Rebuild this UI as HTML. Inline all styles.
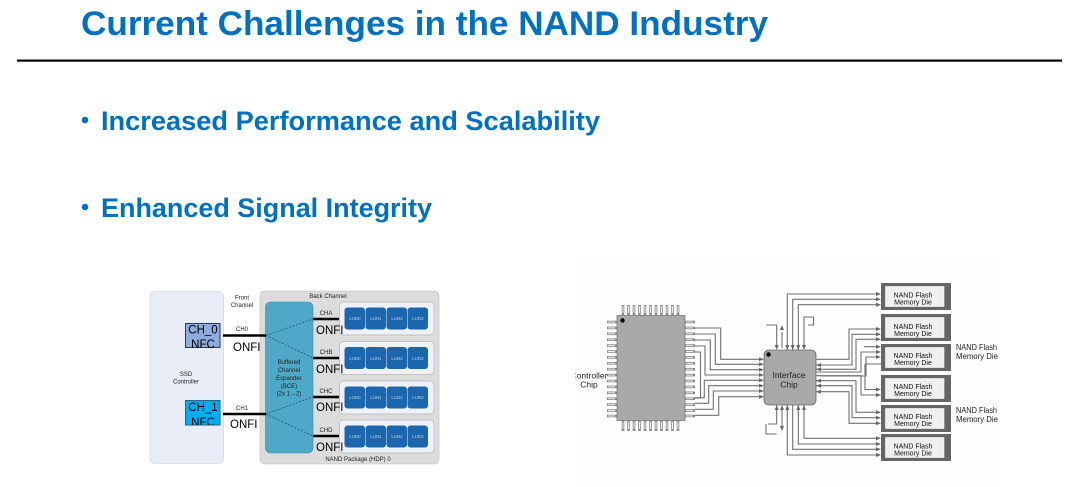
<!DOCTYPE html>
<html><head><meta charset="utf-8"><style>
html,body{margin:0;padding:0;background:#fff;width:1080px;height:487px;overflow:hidden}
svg{display:block}
text{font-family:"Liberation Sans",sans-serif}
</style></head><body>
<svg width="1080" height="487" viewBox="0 0 1080 487" xmlns="http://www.w3.org/2000/svg">
<defs>
<filter id="b" x="-5%" y="-5%" width="110%" height="110%"><feGaussianBlur stdDeviation="0.28"/></filter>
<clipPath id="c0"><rect x="185" y="323" width="36" height="25"/></clipPath>
<clipPath id="c1"><rect x="185" y="400" width="36" height="25"/></clipPath>
<g id="hp"><path d="M0 0H10" stroke="#888" stroke-width="2.6"/><path d="M1 0H8" stroke="#eee" stroke-width="1"/></g>
<g id="vp"><path d="M0 0V10" stroke="#888" stroke-width="2.6"/><path d="M0 1V8" stroke="#eee" stroke-width="1"/></g>
<g id="row"><rect x="0" y="0" width="94.5" height="33" rx="4" fill="#eef1f8" stroke="#b5b5b5" stroke-width=".7"/>
<g fill="#1f66ae"><rect x="5" y="5.500" width="20.500" height="22" rx="3"/><rect x="26" y="5.500" width="20.500" height="22" rx="3"/><rect x="47" y="5.500" width="20.500" height="22" rx="3"/><rect x="68" y="5.500" width="20.500" height="22" rx="3"/></g></g>
<g id="die"><rect x="0" y="0" width="70" height="27" fill="#666"/><rect x="4.500" y="3.500" width="58.500" height="20" fill="#f0f0f0" stroke="#fff" stroke-width=".6"/></g>
</defs>

<text x="81" y="35" font-size="34" font-weight="bold" fill="#0070c0" textLength="687" lengthAdjust="spacingAndGlyphs">Current Challenges in the NAND Industry</text>
<rect x="17" y="59.500" width="1045" height="2.200" fill="#000"/>
<circle cx="85" cy="120" r="3.300" fill="#0070c0"/>
<text x="101" y="130" font-size="27" font-weight="bold" fill="#0070c0" textLength="499" lengthAdjust="spacingAndGlyphs">Increased Performance and Scalability</text>
<circle cx="85" cy="207" r="3.300" fill="#0070c0"/>
<text x="101" y="217" font-size="27" font-weight="bold" fill="#0070c0" textLength="331" lengthAdjust="spacingAndGlyphs">Enhanced Signal Integrity</text>

<g filter="url(#b)">
<rect x="150" y="291.500" width="73.500" height="172" rx="5" fill="#e8edf8" stroke="#c8ccd6" stroke-width=".6"/>
<rect x="260" y="291" width="179" height="173" rx="5" fill="#dcdcdc" stroke="#bbb" stroke-width=".6"/>
<use href="#row" x="339.500" y="302"/><use href="#row" x="339.500" y="341.500"/><use href="#row" x="339.500" y="381"/><use href="#row" x="339.500" y="420"/>
<rect x="265.500" y="302" width="47.500" height="151" rx="5" fill="#4fa8c8" stroke="#3f8aa8" stroke-width=".6"/>
<rect x="185.500" y="323.500" width="34.500" height="24" fill="#8faadc" stroke="#2a3a56"/>
<rect x="185.500" y="400.500" width="34.500" height="24.500" fill="#00aeef" stroke="#1a6a90"/>
<path d="M266 335.500L313 319M266 335.500L313 358M266 414L313 397M266 414L313 436" stroke="#1d5d78" stroke-width=".8" stroke-dasharray="2 1.500" fill="none"/>
<path d="M223 335.500H266M223 414H266M313 319H339M313 358H339M313 397H339M313 436H339" stroke="#000" stroke-width="2.400"/>
<g fill="#222" font-size="6" text-anchor="middle">
<text x="242" y="299.500">Front</text><text x="242" y="307">Channel</text>
<text x="328" y="298">Back Channel</text>
<text x="186" y="376">SSD</text><text x="186" y="383.500">Controller</text>
<text x="242" y="331">CH0</text><text x="242" y="410">CH1</text>
<text x="326" y="315">CHA</text><text x="326" y="354">CHB</text><text x="326" y="393">CHC</text><text x="326" y="432">CHD</text>
<text x="358" y="461">NAND Package (HDP) 0</text>
<text x="289" y="364">Buffered</text><text x="289" y="372">Channel</text><text x="289" y="380">Expander</text><text x="289" y="388">(BCE)</text><text x="289" y="395.500">(2x 1→2)</text>
</g>
<g fill="#b8d0ea" font-size="4.400" text-anchor="middle">
<text x="355" y="320">LUN0</text><text x="376" y="320">LUN1</text><text x="397" y="320">LUN2</text><text x="418" y="320">LUN3</text>
<text x="355" y="360">LUN0</text><text x="376" y="360">LUN1</text><text x="397" y="360">LUN2</text><text x="418" y="360">LUN3</text>
<text x="355" y="399">LUN0</text><text x="376" y="399">LUN1</text><text x="397" y="399">LUN2</text><text x="418" y="399">LUN3</text>
<text x="355" y="438">LUN0</text><text x="376" y="438">LUN1</text><text x="397" y="438">LUN2</text><text x="418" y="438">LUN3</text>
</g>
<g clip-path="url(#c0)" fill="#000" font-size="11.500" text-anchor="middle"><text x="203" y="333.500">CH_0</text><text x="203" y="348">NFC</text></g>
<g clip-path="url(#c1)" fill="#000" font-size="11.500" text-anchor="middle"><text x="203" y="411">CH_1</text><text x="203" y="426">NFC</text></g>
<g fill="#000" font-size="11.500">
<text x="233" y="351">ONFI</text><text x="230" y="428">ONFI</text>
<text x="316" y="334">ONFI</text><text x="316" y="373">ONFI</text><text x="316" y="411">ONFI</text><text x="316" y="451">ONFI</text>
</g>
</g>

<g filter="url(#b)">
<rect x="575" y="262" width="425" height="222" fill="#fefefe"/>
<g id="pinsL">
<use href="#hp" x="607" y="322"/><use href="#hp" x="607" y="327.900"/><use href="#hp" x="607" y="333.800"/><use href="#hp" x="607" y="339.700"/><use href="#hp" x="607" y="345.600"/><use href="#hp" x="607" y="351.500"/><use href="#hp" x="607" y="357.400"/><use href="#hp" x="607" y="363.300"/><use href="#hp" x="607" y="369.200"/><use href="#hp" x="607" y="375.100"/><use href="#hp" x="607" y="381"/><use href="#hp" x="607" y="386.900"/><use href="#hp" x="607" y="392.800"/><use href="#hp" x="607" y="398.700"/><use href="#hp" x="607" y="404.600"/><use href="#hp" x="607" y="410.500"/><use href="#hp" x="607" y="416"/>
</g>
<use href="#pinsL" x="78"/>
<g id="pinsT">
<use href="#vp" x="623" y="305"/><use href="#vp" x="628.500" y="305"/><use href="#vp" x="634" y="305"/><use href="#vp" x="639.500" y="305"/><use href="#vp" x="645" y="305"/><use href="#vp" x="650.500" y="305"/><use href="#vp" x="656" y="305"/><use href="#vp" x="661.500" y="305"/><use href="#vp" x="667" y="305"/><use href="#vp" x="672.500" y="305"/><use href="#vp" x="678" y="305"/>
</g>
<use href="#pinsT" y="116"/>
<rect x="617" y="315.500" width="68" height="105" fill="#a9a9a9" stroke="#777" stroke-width=".8"/>
<circle cx="622.500" cy="320.500" r="2.200" fill="#000"/>

<g fill="none" stroke="#6f6f6f" stroke-width="1.100">
<path d="M695 328H720.700V359.300H762M695 334H715.300V364.300H762M695 340H710.300V369.700H762M695 346H705V375H762M695 352H700.500V398M700.500 398H695"/>
<path d="M695 415.300H718.700V396.700H762M695 409.300H713.300V391H762M695 403.300H708.700V385.700H762M695 397.700H704.300V380.300H762"/>
<path d="M787.300 350V294H878M792.700 350V299.300H878M798.300 350V304.700H878"/>
<path d="M816 359.300H849V329H878M816 365H852V334.300H878M816 369.300H856V339.300H878"/>
<path d="M864 346.700H878M816 372H861V352H878M820 376H866V357H878M865 364H881M865 364V389.500H878M816 375.700H861V395H878"/>
<path d="M816 380.700H856V412.300H878M816 385.700H852V417.700H878M816 391.700H849V423.300H878"/>
<path d="M804 405V438.300H878M798.300 405V444H878M792.700 405V449.300H878M787.300 405V455H878"/>
<path d="M766 325H776.700V348M782 332V348M804 348V317H813.500V325H808M768 424H776.700V405M782 407V430M766 424V434H776.700"/>
</g>
<g fill="#666">
<path d="M881 294l-5-2v4zM881 299.300l-5-2v4zM881 304.700l-5-2v4zM881 329l-5-2v4zM881 334.300l-5-2v4zM881 339.300l-5-2v4zM881 346.700l-5-2v4zM881 352l-5-2v4zM881 357l-5-2v4zM881 389.500l-5-2v4zM881 395l-5-2v4zM881 412.300l-5-2v4zM881 417.700l-5-2v4zM881 423.300l-5-2v4zM881 438.300l-5-2v4zM881 444l-5-2v4zM881 449.300l-5-2v4zM881 455l-5-2v4z"/>
<path d="M764 359.300l-5-2v4zM764 364.300l-5-2v4zM764 369.700l-5-2v4zM764 375l-5-2v4zM764 380.300l-5-2v4zM764 385.700l-5-2v4zM764 391l-5-2v4zM764 396.700l-5-2v4z"/>
<path d="M816 365l5-2v4zM816 369.300l5-2v4zM816 380.700l5-2v4zM816 385.700l5-2v4zM816 391.700l5-2v4z"/>
<path d="M776.700 350l-2-5h4zM787.300 350l-2-5h4zM792.700 350l-2-5h4zM798.300 350l-2-5h4zM804 350l-2-5h4zM782 325l-2 5h4z"/>
<path d="M776.700 405l-2 5h4zM782 405l-2 5h4zM787.300 405l-2 5h4zM798.300 405l-2 5h4zM804 405l-2 5h4zM782 431l-2-5h4z"/>
</g>
<rect x="764" y="350" width="52" height="55" rx="5" fill="#a9a9a9" stroke="#666" stroke-width=".8"/>
<circle cx="768.500" cy="354.500" r="2.200" fill="#000"/>
<use href="#die" x="881" y="283"/><use href="#die" x="881" y="314"/><use href="#die" x="881" y="344"/><use href="#die" x="881" y="375"/><use href="#die" x="881" y="405"/><use href="#die" x="881" y="434"/>
<g fill="#111" font-size="7" text-anchor="middle">
<text x="913" y="297.500">NAND Flash</text><text x="913" y="304.500">Memory Die</text>
<text x="913" y="329">NAND Flash</text><text x="913" y="336">Memory Die</text>
<text x="913" y="358">NAND Flash</text><text x="913" y="365">Memory Die</text>
<text x="913" y="389">NAND Flash</text><text x="913" y="396">Memory Die</text>
<text x="913" y="419">NAND Flash</text><text x="913" y="426">Memory Die</text>
<text x="913" y="448.500">NAND Flash</text><text x="913" y="455.500">Memory Die</text>
</g>
<g fill="#222" font-size="8.200">
<text x="956" y="350" textLength="41" lengthAdjust="spacingAndGlyphs">NAND Flash</text><text x="956" y="359" textLength="42" lengthAdjust="spacingAndGlyphs">Memory Die</text>
<text x="956" y="413" textLength="41" lengthAdjust="spacingAndGlyphs">NAND Flash</text><text x="956" y="422" textLength="42" lengthAdjust="spacingAndGlyphs">Memory Die</text>
</g>
<g fill="#222" font-size="8.500" text-anchor="middle">
<text x="789" y="378">Interface</text><text x="789" y="387.500">Chip</text>
<text x="589" y="378.500">Controller</text><text x="589" y="387.500">Chip</text>
</g>
<rect x="560" y="370" width="15.500" height="12" fill="#fff"/>
</g>
</svg>
</body></html>
